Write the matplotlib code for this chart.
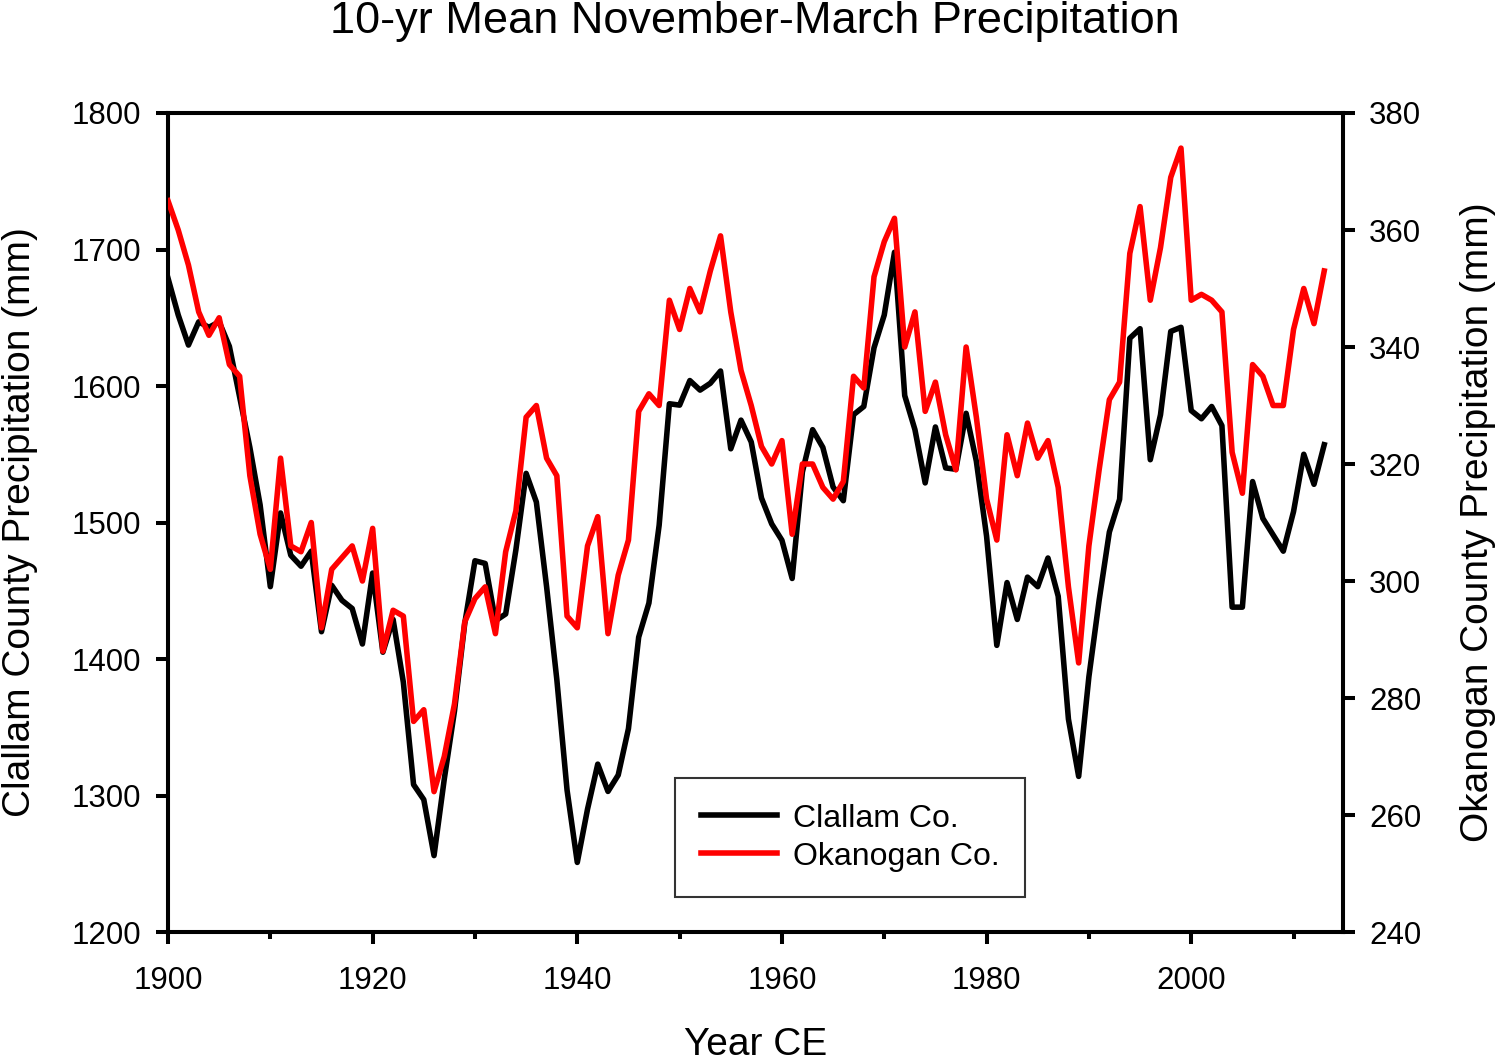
import matplotlib
matplotlib.use("Agg")
import matplotlib.pyplot as plt
from matplotlib.ticker import MultipleLocator

plt.rcParams['font.family'] = ['Liberation Sans', 'DejaVu Sans']

# ---- data ----
years = list(range(1900, 2014))

clallam = [
    1679, 1652, 1630, 1647, 1643, 1647, 1629, 1592, 1555, 1513,   # 1900-1909
    1453, 1507, 1476, 1468, 1479, 1420, 1454, 1443, 1437, 1411,   # 1910-1919
    1463, 1405, 1429, 1383, 1308, 1297, 1256, 1312, 1362, 1426,   # 1920-1929
    1472, 1470, 1428, 1433, 1480, 1536, 1515, 1453, 1385, 1304,   # 1930-1939
    1251, 1290, 1323, 1303, 1315, 1349, 1416, 1441, 1498, 1587,   # 1940-1949
    1586, 1604, 1597, 1602, 1611, 1554, 1575, 1559, 1518, 1499,   # 1950-1959
    1487, 1459, 1537, 1568, 1555, 1526, 1516, 1579, 1585, 1628,   # 1960-1969
    1652, 1698, 1593, 1568, 1529, 1570, 1540, 1539, 1580, 1545,   # 1970-1979
    1490, 1410, 1456, 1429, 1460, 1453, 1474, 1446, 1356, 1314,   # 1980-1989
    1387, 1443, 1493, 1517, 1635, 1642, 1546, 1579, 1640, 1643,   # 1990-1999
    1582, 1576, 1585, 1571, 1438, 1438, 1530, 1503, 1491, 1479,   # 2000-2009
    1508, 1550, 1528, 1557,                                       # 2010-2013
]

okanogan = [
    365, 360, 354, 346, 342, 345, 337, 335, 318, 308,   # 1900-1909
    302, 321, 306, 305, 310, 292, 302, 304, 306, 300,   # 1910-1919
    309, 288, 295, 294, 276, 278, 264, 270, 279, 293,   # 1920-1929
    297, 299, 291, 305, 312, 328, 330, 321, 318, 294,   # 1930-1939
    292, 306, 311, 291, 301, 307, 329, 332, 330, 348,   # 1940-1949
    343, 350, 346, 353, 359, 346, 336, 330, 323, 320,   # 1950-1959
    324, 308, 320, 320, 316, 314, 317, 335, 333, 352,   # 1960-1969
    358, 362, 340, 346, 329, 334, 325, 319, 340, 328,   # 1970-1979
    314, 307, 325, 318, 327, 321, 324, 316, 299, 286,   # 1980-1989
    306, 319, 331, 334, 356, 364, 348, 357, 369, 374,   # 1990-1999
    348, 349, 348, 346, 322, 315, 337, 335, 330, 330,   # 2000-2009
    343, 350, 344, 353,                                 # 2010-2013
]

# ---- figure ----
fig = plt.figure(figsize=(15, 10.63), dpi=100)
ax = fig.add_axes([0.112, 0.1232, 0.7831, 0.7705])
ax2 = ax.twinx()

l1, = ax.plot(years, clallam, color='black', lw=4, label='Clallam Co.', zorder=3)
l2, = ax2.plot(years, okanogan, color='#ff0000', lw=4, label='Okanogan Co.', zorder=3)

ax.set_xlim(1900, 2014.8)
ax.set_ylim(1200, 1800)
ax2.set_ylim(240, 380)

ax.xaxis.set_major_locator(MultipleLocator(20))
ax.xaxis.set_minor_locator(MultipleLocator(10))
ax.yaxis.set_major_locator(MultipleLocator(100))
ax2.yaxis.set_major_locator(MultipleLocator(20))

for a in (ax, ax2):
    for s in a.spines.values():
        s.set_linewidth(2.9)
    a.tick_params(which='major', direction='out', length=8.5, width=2.9,
                  labelsize=22.5, pad=10.5)
    a.tick_params(which='minor', direction='out', length=5, width=2.9)
ax.tick_params(axis='x', pad=16)

ax.set_xlabel('Year CE', fontsize=28, va='center')
ax.xaxis.set_label_coords(0.5, -0.138)
ax.set_ylabel('Clallam County Precipitation (mm)', fontsize=28, va='center')
ax.yaxis.set_label_coords(-0.126, 0.5)
ax2.set_ylabel('Okanogan County Precipitation (mm)', fontsize=28, va='center',
               rotation=90)
ax2.yaxis.set_label_coords(1.115, 0.5)

fig.text(0.503, 0.980, '10-yr Mean November-March Precipitation',
         fontsize=32.5, ha='center', va='center')

leg = ax2.legend(handles=[l1, l2], loc='lower left',
                 bbox_to_anchor=(0.4316, 0.0427), borderaxespad=0,
                 fontsize=23, frameon=True, fancybox=False,
                 edgecolor='black', handlelength=2.4, handletextpad=0.5,
                 borderpad=0.8, labelspacing=0.25)
leg.get_frame().set_linewidth(1.5)

fig.savefig('out.png', dpi=100)
